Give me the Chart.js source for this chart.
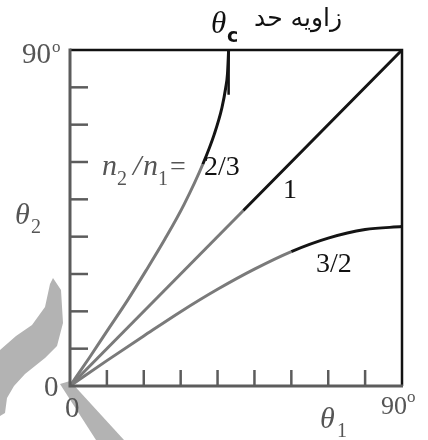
<!DOCTYPE html>
<html>
<head>
<meta charset="utf-8">
<script src="https://cdn.jsdelivr.net/npm/chart.js@4"></script>
<style>
  html, body { margin: 0; padding: 0; background: #fff; }
  #wrap { width: 428px; height: 440px; }
</style>
</head>
<body>
<div id="wrap"><canvas id="snell" width="428" height="440"></canvas></div>
<script>
// theta1 / theta2 in degrees, one array pair per index ratio
var thetaA = [0, 5.2, 10.3, 15.5, 20.6, 25.7, 30.9, 36, 39.1, 41.2, 42.2, 42.7, 43];
var curveA = [0, 7.5, 15.1, 22.8, 30.9, 39.3, 48.6, 59.4, 67.4, 74.6, 79.8, 83.7, 90];   // n2/n1 = 2/3
var thetaB = [0, 47, 90];
var curveB = [0, 47, 90];                                                              // n2/n1 = 1
var thetaC = [0, 10, 20, 30, 40, 50, 60, 70, 80, 90];
var curveC = [0, 6.8, 13.4, 19.9, 25.9, 31.3, 36.0, 39.6, 41.9, 42.7];                 // n2/n1 = 3/2
var ratioLabels = ['2/3', '1', '3/2'];
var darkFrom = [35, 47, 58];      // the stroke turns black past this theta1
var criticalAngle = [43, 43];
var criticalMark = [90, 78];
var tickValues = [10, 20, 30, 40, 50, 60, 70, 80];

var SERIF = '"Liberation Serif", "DejaVu Serif", serif';
var SANS = '"DejaVu Sans", sans-serif';

function pts(xs, ys) {
    return xs.map(function(x, i) { return {x: x, y: ys[i]}; });
}

var GRAY = '#7a7a7a';
var BLACK = '#141414';

function curve(label, xs, ys, split) {
    return {
        label: label,
        data: pts(xs, ys),
        borderWidth: 3,
        borderColor: BLACK,
        pointRadius: 0,
        cubicInterpolationMode: 'monotone',
        clip: false,
        segment: {
            borderColor: function(c) { return c.p0.parsed.x >= split ? BLACK : GRAY; }
        }
    };
}

// the grey brush mark over the lower left corner
var smudge = {
    id: 'smudge',
    beforeDraw: function(chart) {
        var c = chart.ctx;
        c.save();
        c.fillStyle = '#b3b3b3';
        c.beginPath();
        c.moveTo(53, 278);
        c.lineTo(61, 290);
        c.lineTo(63, 323);
        c.lineTo(57, 346);
        c.lineTo(45, 358);
        c.lineTo(25, 374);
        c.lineTo(14, 386);
        c.lineTo(7, 398);
        c.lineTo(5, 413);
        c.lineTo(0, 416);
        c.lineTo(0, 350);
        c.lineTo(16, 336);
        c.lineTo(32, 325);
        c.lineTo(45, 307);
        c.lineTo(50, 284);
        c.closePath();
        c.fill();
        c.beginPath();
        c.moveTo(60, 384);
        c.lineTo(70, 381);
        c.lineTo(124, 440);
        c.lineTo(96, 440);
        c.closePath();
        c.fill();
        c.restore();
    }
};

// frame, inward ticks and all the text
var frame = {
    id: 'frame',
    afterDatasetsDraw: function(chart) {
        var c = chart.ctx;
        var a = chart.chartArea;
        var xs = chart.scales.x, ys = chart.scales.y;
        c.save();
        c.lineCap = 'butt';

        c.strokeStyle = '#111';
        c.lineWidth = 2.5;
        c.beginPath();
        c.moveTo(a.left, a.top); c.lineTo(a.right, a.top); c.lineTo(a.right, a.bottom);
        c.stroke();

        c.strokeStyle = '#5c5c5c';
        c.lineWidth = 3;
        c.beginPath();
        c.moveTo(a.left, a.top - 1.5); c.lineTo(a.left, a.bottom); c.lineTo(a.right + 1, a.bottom);
        c.stroke();

        c.lineWidth = 2.5;
        tickValues.forEach(function(v) {
            var px = xs.getPixelForValue(v);
            c.beginPath(); c.moveTo(px, a.bottom); c.lineTo(px, a.bottom - 16); c.stroke();
            var py = ys.getPixelForValue(v);
            c.beginPath(); c.moveTo(a.left, py); c.lineTo(a.left + 18, py); c.stroke();
        });

        c.textBaseline = 'alphabetic';
        c.textAlign = 'left';
        c.fillStyle = '#555';
        c.font = '29px ' + SERIF;
        c.fillText('90', 22, 63);
        c.fillText('0', 44, 396);
        c.fillText('0', 65, 417);
        c.font = '26px ' + SERIF;
        c.fillText('90', 381, 414);
        c.font = '17px ' + SERIF;
        c.fillText('o', 52, 52);
        c.fillText('o', 407, 402);

        c.font = 'italic 30px ' + SERIF;
        c.fillText('\u03b8', 15, 224);
        c.fillText('\u03b8', 320, 428);
        c.font = '20px ' + SERIF;
        c.fillText('2', 31, 233);
        c.fillText('1', 337, 437);

        c.font = 'italic 30px ' + SERIF;
        c.fillText('n', 102, 175);
        c.fillText('/', 133, 175);
        c.fillText('n', 143, 175);
        c.font = '20px ' + SERIF;
        c.fillText('2', 117, 185);
        c.fillText('1', 158, 185);
        c.font = '28px ' + SERIF;
        c.fillText('=', 170, 175);

        c.fillStyle = '#111';
        c.font = '28px ' + SERIF;
        c.fillText(ratioLabels[0], 204, 175);
        c.fillText(ratioLabels[1], 283, 198);
        c.fillText(ratioLabels[2], 316, 272);

        c.font = 'italic 31px ' + SERIF;
        c.fillText('\u03b8', 211, 33);
        c.font = 'bold 19px ' + SANS;
        c.fillText('c', 227, 42);
        c.font = '25px ' + SANS;
        c.textAlign = 'right';
        c.fillText('\u0632\u0627\u0648\u06cc\u0647 \u062d\u062f', 342, 26);
        c.restore();
    }
};

function draw() {
    new Chart(document.getElementById('snell').getContext('2d'), {
        type: 'line',
        data: {
            datasets: [
                curve(ratioLabels[0], thetaA, curveA, darkFrom[0]),
                curve(ratioLabels[1], thetaB, curveB, darkFrom[1]),
                curve(ratioLabels[2], thetaC, curveC, darkFrom[2]),
                {
                    label: 'critical',
                    data: pts(criticalAngle, criticalMark),
                    borderColor: BLACK,
                    borderWidth: 2.5,
                    pointRadius: 0,
                    clip: false
                }
            ]
        },
        options: {
            responsive: false,
            animation: false,
            layout: { padding: { left: 70, right: 26, top: 50, bottom: 54 } },
            scales: {
                x: { type: 'linear', min: 0, max: 90, display: false },
                y: { type: 'linear', min: 0, max: 90, display: false }
            },
            plugins: {
                legend: { display: false },
                tooltip: { enabled: false }
            }
        },
        plugins: [smudge, frame]
    });
}

// make sure the local fonts are ready before the canvas text is drawn
Promise.all([
    document.fonts.load('25px "Liberation Serif"'),
    document.fonts.load('italic 25px "Liberation Serif"'),
    document.fonts.load('25px "DejaVu Sans"'),
    document.fonts.load('bold 18px "DejaVu Sans"')
]).then(draw, draw);
</script>
</body>
</html>
